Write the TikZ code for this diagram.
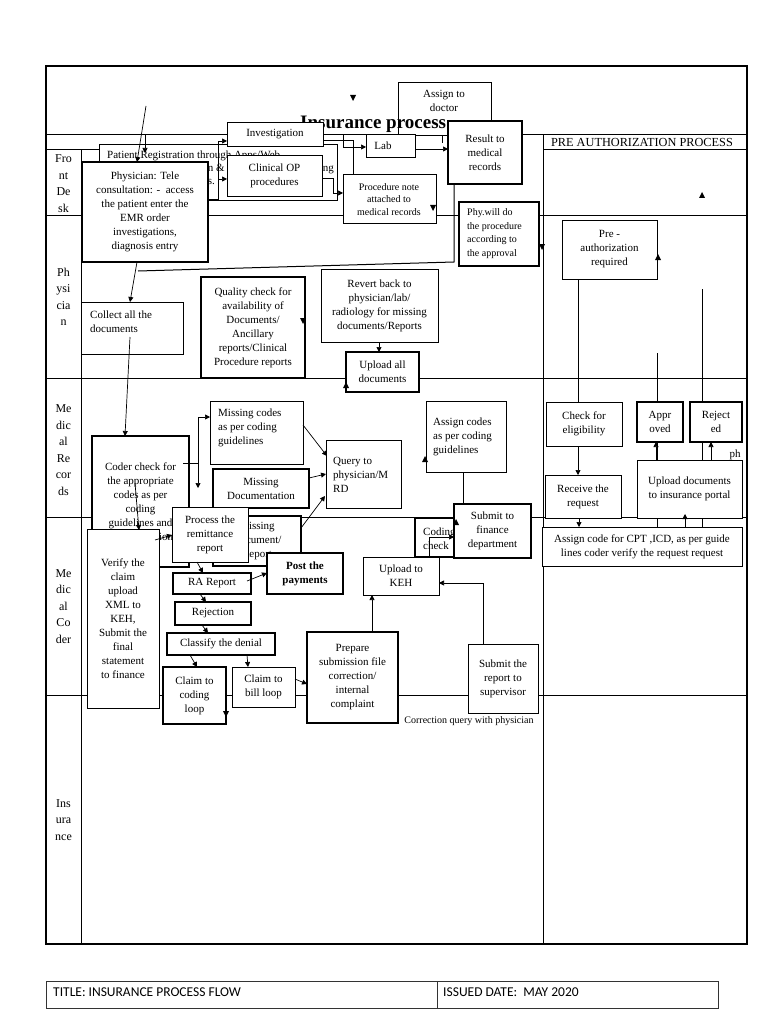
\documentclass[tikz,border=0pt]{standalone}
\usepackage{fontspec}
\setmainfont{Liberation Serif}
\newfontfamily\footfont{Carlito}
\usetikzlibrary{arrows.meta}
\newcommand{\fs}[2]{\fontsize{#1}{#2}\selectfont}
\tikzset{
 box/.style={draw, fill=white, line width=0.8pt, inner sep=0pt, outer sep=0pt},
 tb/.style={line width=1.8pt},
 mb/.style={line width=1.3pt},
 txt/.style={align=center, inner sep=0pt, font=\fs{11}{14}},
 lanelbl/.style={align=center, inner sep=0pt, font=\fs{12}{16.5}},
 lane/.style={line width=1pt},
 arr/.style={-{Triangle[length=5pt,width=5pt]}, line width=0.7pt},
 ln/.style={line width=0.7pt},
}
\newcommand{\mybox}[7][]{%
 \node[box,#1,minimum width={#5-#3},minimum height={#6-#4}] (#2) at ({(#3+#5)/2},{(#4+#6)/2}) {};
 \node[txt] (#2-t) at (#2.center) {#7};}
\newcommand{\ltext}[4]{\node[txt,align=left,anchor=west] (#1) at (#2,#3) {#4};}
\newcommand{\dnarr}[2]{\fill (#1-3,#2-3)--(#1+3,#2-3)--(#1,#2+3)--cycle;}
\newcommand{\uparr}[2]{\fill (#1-3,#2+3)--(#1+3,#2+3)--(#1,#2-3)--cycle;}
\begin{document}
\begin{tikzpicture}[x=1pt,y=-1pt]
\useasboundingbox (0,0) rectangle (768,1024);
% frame and lanes
\draw[line width=1.1pt] (46,66) rectangle (747,944);
\draw[lane] (46,134.5) -- (747,134.5);
\draw[lane] (543,149.5) -- (747,149.5);
\draw[lane] (46,150) -- (99,150);
\draw[lane] (81,150) -- (81,944);
\draw[lane] (543,134.5) -- (543,944);
\foreach \yy in {216,378,517,695} \draw[lane] (46,\yy) -- (747,\yy);
\node[lanelbl] (l1) at (63.5,183.5) {Fro\\nt\\De\\sk};
\node[lanelbl] (l2) at (63.5,297) {Ph\\ysi\\cia\\n};
\node[lanelbl] (l3) at (63.5,450) {Me\\dic\\al\\Re\\cor\\ds};
\node[lanelbl] (l4) at (63.5,606.5) {Me\\dic\\al\\Co\\der};
\node[lanelbl] (l5) at (63.5,820) {Ins\\ura\\nce};
\node[font=\fs{12.3}{14}, inner sep=0] (hdr) at (642,142) {PRE AUTHORIZATION PROCESS};
% lines behind boxes
\draw[ln] (657,353) -- (657,527);
\draw[ln] (702,289) -- (702,527);
\node[font=\fs{11}{14}, inner sep=0] (ph) at (735,455) {ph};
% boxes
\mybox{assign}{398}{82}{491}{135}{}
\node[txt,font=\fs{11}{13.5}] (assign-tt) at (444,101) {Assign to\\doctor};
\node[anchor=base west, font=\bfseries\fs{19}{22}, inner sep=0] (title) at (300,128.5) {Insurance process};
\mybox[tb]{result}{448}{121}{522}{184}{Result to\\medical\\records}
\mybox{preg}{99}{144}{337}{200}{}
\node[anchor=base west, font=\fs{11}{14}, inner sep=0] (preg-1) at (107,159) {Patient Registration through Apps/Web};
\node[anchor=base east, font=\fs{11}{14}, inner sep=0] (preg-2) at (225,172) {on \&};
\node[anchor=base east, font=\fs{11}{14}, inner sep=0] (preg-3) at (334,172) {ng};
\node[anchor=base east, font=\fs{11}{14}, inner sep=0] (preg-4) at (215,185) {ds.};
\mybox[tb]{phys}{82}{162}{208}{262}{Physician: Tele\\consultation: -\ \ access\\the patient enter the\\EMR order\\investigations,\\diagnosis entry}
\mybox{clin}{227}{155}{322}{196}{Clinical OP\\procedures}
\mybox{inv}{227}{122}{323}{146}{Investigation}
\mybox{lab}{366}{134}{415}{157}{}
\node[txt] (lab-tt) at (383,146) {Lab};
\mybox{proc}{343}{174}{436}{223}{}
\node[txt,font=\fs{10}{12.5}] (proc-tt) at (389,199.5) {Procedure note\\attached to\\medical records};
\mybox[mb]{phyw}{459}{202}{539}{266}{}
\node[txt,align=left,anchor=west,font=\fs{10}{13.5}] (phyw-tt) at (467,233.5) {Phy.will do\\the procedure\\according to\\the approval};
\mybox{preauth}{562}{220}{657}{279}{Pre -\\authorization\\required}
\mybox{collect}{81}{302}{183}{354}{}
\ltext{collect-tt}{90}{322}{Collect all the\\documents}
\mybox[mb]{quality}{201}{277}{305}{378}{Quality check for\\availability of\\Documents/\\Ancillary\\reports/Clinical\\Procedure reports}
\mybox{revert}{321}{269}{438}{342}{Revert back to\\physician/lab/\\radiology for missing\\documents/Reports}
\mybox[mb]{upload}{346}{352}{419}{392}{Upload all\\documents}
\mybox{misscodes}{210}{401}{303}{464}{}
\ltext{misscodes-tt}{218}{428}{Missing codes\\as per coding\\guidelines}
\mybox{query}{326}{440}{401}{508}{}
\ltext{query-tt}{333}{475}{Query to\\physician/M\\RD}
\mybox{assigncodes}{426}{401}{506}{472}{}
\ltext{assigncodes-tt}{433}{437}{Assign codes\\as per coding\\guidelines}
\mybox{elig}{546}{402}{622}{446}{Check for\\eligibility}
\mybox[mb]{appr}{637}{402}{683}{442}{Appr\\oved}
\mybox[mb]{rej}{690}{402}{742}{442}{Reject\\ed}
\mybox[tb]{coder}{92}{436}{189}{567}{Coder check for\\the appropriate\\codes as per\\coding\\guidelines and\\documentation}
\mybox[tb]{missdoc}{213}{469}{309}{508}{Missing\\Documentation}
\mybox[tb]{missrep}{213}{516}{301}{566}{Missing\\Document/\\Report}
\mybox{remit}{172}{507}{248}{562}{Process the\\remittance\\report}
\mybox{verify}{87}{529}{159}{708}{Verify the\\claim\\upload\\XML to\\KEH,\\Submit the\\final\\statement\\to finance}
\mybox{receive}{545}{475}{621}{518}{Receive the\\request}
\mybox{updocs}{637}{460}{742}{518}{Upload documents\\to insurance portal}
\mybox{assigncpt}{542}{527}{742}{566}{Assign code for CPT ,ICD, as per guide\\lines coder verify the request request}
\mybox[tb]{coding}{415}{518}{460}{557}{}
\ltext{coding-tt}{423}{539}{Coding\\check}
\mybox[mb]{submit}{454}{504}{531}{558}{Submit to\\finance\\department}
\mybox[tb]{ra}{173}{573}{251}{594}{RA Report}
\mybox[tb]{post}{267}{553}{343}{594}{\bfseries Post the\\\bfseries payments}
\mybox{ukeh}{363}{557}{439}{595}{Upload to\\KEH}
\mybox[mb]{rejection}{175}{602}{251}{625}{Rejection}
\mybox[mb]{classify}{167}{633}{275}{655}{Classify the denial}
\mybox[tb]{ccl}{163}{667}{226}{724}{Claim to\\coding\\loop}
\mybox{cbl}{232}{667}{295}{707}{Claim to\\bill loop}
\mybox[mb]{prep}{307}{632}{398}{723}{Prepare\\submission file\\correction/\\internal\\complaint}
\mybox{supv}{468}{644}{538}{713}{Submit the\\report to\\supervisor}
\node[font=\fs{10}{12}, inner sep=0] (corr) at (469,721) {Correction query with physician};
% connectors (top)
\coordinate (s0) at (146,106);
\draw[arr] (s0) -- (137,0 |- phys.north);
\draw[arr] (145,134.5) -- (145,153);
\draw[arr] (phys.east |- 0,199) -| (218,141) -- (inv.west |- 0,141);
\draw[arr] (218,179) -- (clin.west |- 0,179);
\draw[ln] (inv.east |- 0,140) -| (353,0 |- proc.north);
\draw[arr] (343,134.5) |- (lab.west |- 0,147);
\draw[arr] (clin.east |- 0,178) -| (333,193) -- (proc.west |- 0,193);
\draw[arr] (lab.east |- 0,149) -- (result.west |- 0,149);
\draw[ln] (442,0 |- assign.south) -- (442,143);
\draw[line width=1pt] (454,0 |- result.south) -- (454,262) -- (138,271);
\draw[arr] (137,0 |- phys.south) -- (130,0 |- collect.north);
\draw[arr] (130,337) -- (125,0 |- coder.north);
\draw[arr] (379,0 |- revert.south) -- (379,0 |- upload.north);
% pre-authorization column
\draw[ln] (578,0 |- preauth.south) -- (578,0 |- elig.north);
\draw[arr] (578,0 |- elig.south) -- (578,0 |- receive.north);
\draw[arr] (579,0 |- receive.south) -- (579,0 |- assigncpt.north);
\draw[arr] (656,0 |- updocs.north) -- (656,0 |- appr.south);
\draw[arr] (711,0 |- updocs.north) -- (711,0 |- rej.south);
\draw[arr] (685,0 |- assigncpt.north) -- (685,514);
% medical records / coder
\draw[ln] (183,463) -- (198,463);
\draw[arr] (198,463) |- (misscodes.west |- 0,417);
\draw[arr] (198,463) -- (198,488);
\draw[arr] (135,483) -- (139,530);
\draw[arr] (155,540) -- (remit.west |- 0,535);
\draw[arr] (303,425) -- (327,456);
\draw[arr] (missdoc.east |- 0,478) -- (query.west |- 0,474);
\draw[arr] (missrep.east |- 0,528) -- (325,496);
\draw[ln] (463,0 |- assigncodes.south) -- (463,0 |- submit.north);
\draw[arr] (429,557) |- (submit.west |- 0,537);
\draw[arr] (197,0 |- remit.south) -- (203,0 |- ra.north);
\draw[arr] (247,581) -- (post.west |- 0,573);
\draw[arr] (200,0 |- ra.south) -- (206,0 |- rejection.north);
\draw[arr] (202,0 |- rejection.south) -- (208,0 |- classify.north);
\draw[arr] (190,0 |- classify.south) -- (197,0 |- ccl.north);
\draw[arr] (247,0 |- classify.south) -- (248,0 |- cbl.north);
\draw[arr] (cbl.east |- 0,679) -- (prep.west |- 0,684);
\draw[arr] (372,0 |- prep.north) -- (372,0 |- ukeh.south);
\draw[arr] (483,0 |- supv.north) |- (ukeh.east |- 0,583);
% loose arrowheads
\dnarr{353}{98}
\dnarr{433}{208}
\dnarr{542}{247}
\uparr{702}{195}
\uparr{658}{257}
\dnarr{303}{321}
\uparr{346}{385}
\uparr{425}{459}
\uparr{456}{522}
\dnarr{226}{714}
% footer
\draw[line width=0.9pt, draw=black!80] (46,981) rectangle (718,1008);
\draw[line width=0.9pt, draw=black!80] (437,981) -- (437,1008);
\node[anchor=base west, font=\footfont\fs{13.5}{15}, inner sep=0] (ft1) at (53,996) {TITLE: INSURANCE PROCESS FLOW};
\node[anchor=base west, font=\footfont\fs{13.5}{15}, inner sep=0] (ft2) at (443,996) {ISSUED DATE:\ \ MAY 2020};
\end{tikzpicture}
\end{document}
